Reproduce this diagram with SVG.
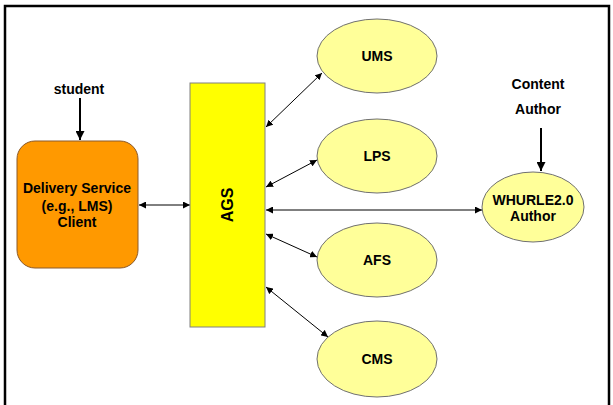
<svg xmlns="http://www.w3.org/2000/svg" width="613" height="405" viewBox="0 0 613 405">
<defs>
<marker id="ah" viewBox="0 0 10 10" refX="10" refY="5" markerWidth="7" markerHeight="7" markerUnits="userSpaceOnUse" orient="auto-start-reverse">
<path d="M0,0 L10,5 L0,10 z" fill="#000"/>
</marker>
<marker id="ahb" viewBox="0 0 10 10" refX="10" refY="5" markerWidth="9" markerHeight="9" markerUnits="userSpaceOnUse" orient="auto">
<path d="M0,0 L10,5 L0,10 z" fill="#000"/>
</marker>
<style>
.t{font-family:"Liberation Sans",Arial,sans-serif;font-weight:bold;font-size:14px;fill:#000;text-anchor:middle;dominant-baseline:central}
.ell{fill:#FFFF99;stroke:#707070;stroke-width:1}
.c{stroke:#000;stroke-width:1;fill:none;marker-start:url(#ah);marker-end:url(#ah)}
.cb{stroke:#000;stroke-width:2;fill:none;marker-end:url(#ahb)}
</style>
</defs>
<rect x="0" y="0" width="613" height="405" fill="#fff"/>
<rect x="5" y="6" width="604" height="410" fill="none" stroke="#000" stroke-width="2.5"/>
<g id="connectors">
<line class="cb" x1="80" y1="98" x2="80" y2="140"/>
<line class="cb" x1="541" y1="128" x2="541" y2="171"/>
<line class="c" x1="139" y1="205" x2="190" y2="205"/>
<line class="c" x1="266" y1="127" x2="322" y2="73"/>
<line class="c" x1="266" y1="187" x2="317" y2="160"/>
<line class="c" x1="266" y1="210" x2="482" y2="210"/>
<line class="c" x1="266" y1="234" x2="317" y2="257"/>
<line class="c" x1="266" y1="287" x2="328" y2="337"/>
</g>
<g id="student"><text class="t" x="79" y="89">student</text></g>
<g id="content-author"><text class="t" x="538" y="84">Content</text><text class="t" x="538" y="109">Author</text></g>
<g id="delivery">
<rect x="17" y="141" width="121" height="127" rx="18" ry="18" fill="#FF9900" stroke="#8B5A2B" stroke-width="1"/>
<text class="t" x="77" y="188">Delivery Service</text>
<text class="t" x="77" y="206">(e.g., LMS)</text>
<text class="t" x="77" y="222">Client</text>
</g>
<g id="ags">
<rect x="190" y="83" width="75" height="244" fill="#FFFF00" stroke="#808080" stroke-width="1"/>
<text class="t" x="227" y="205" transform="rotate(-90 227 205)" style="font-size:16px">AGS</text>
</g>
<g id="ums"><ellipse class="ell" cx="377" cy="56" rx="60" ry="37"/><text class="t" x="377" y="56">UMS</text></g>
<g id="lps"><ellipse class="ell" cx="377" cy="156" rx="60" ry="37"/><text class="t" x="377" y="156">LPS</text></g>
<g id="afs"><ellipse class="ell" cx="377" cy="260" rx="60" ry="37"/><text class="t" x="377" y="260">AFS</text></g>
<g id="cms"><ellipse class="ell" cx="377" cy="359" rx="60" ry="38"/><text class="t" x="377" y="359">CMS</text></g>
<g id="whurle"><ellipse class="ell" cx="533" cy="207" rx="51" ry="35"/><text class="t" x="533" y="200">WHURLE2.0</text><text class="t" x="533" y="216">Author</text></g>
</svg>
